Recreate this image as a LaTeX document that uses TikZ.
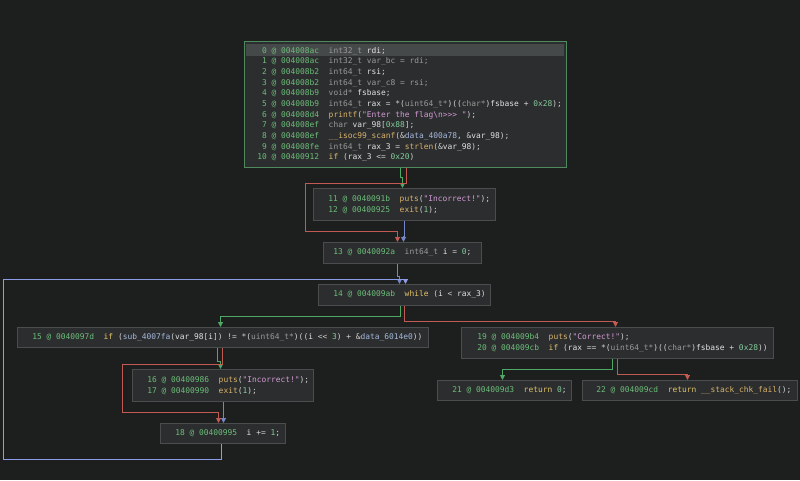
\documentclass[tikz,border=0pt]{standalone}
\usepackage{fontspec}
\setmonofont{DejaVu Sans Mono}
\usetikzlibrary{arrows.meta}
\definecolor{bg}{HTML}{1D1E1E}
\definecolor{boxfill}{HTML}{2B2D2E}
\definecolor{boxline}{HTML}{4A4D4E}
\definecolor{entryline}{HTML}{4F8A5E}
\definecolor{hlrow}{HTML}{46494A}
\definecolor{caddr}{HTML}{6DBE7A}
\definecolor{ctype}{HTML}{9A9A9A}
\definecolor{cvar}{HTML}{E2E2E2}
\definecolor{cfun}{HTML}{D9B36C}
\definecolor{cstr}{HTML}{D49BD6}
\definecolor{ckw}{HTML}{E3C36A}
\definecolor{cnum}{HTML}{84CC9C}
\definecolor{cdat}{HTML}{A5B9DD}
\definecolor{ctext}{HTML}{D0D0D0}
\definecolor{egreen}{HTML}{4FA865}
\definecolor{ered}{HTML}{C05A52}
\definecolor{eblue}{HTML}{7585C8}
\definecolor{eloop}{HTML}{8C9CE6}
\newcommand{\zSetSp}{\spaceskip=\fontcharwd\font`\0\relax\xspaceskip=\spaceskip}
\newcommand{\zLN}[3]{\mbox{\zSetSp\color{caddr}#1\ @\ #2\color{ctext}\ \ #3}}
\newcommand{\zTy}[1]{\textcolor{ctype}{#1}}
\newcommand{\zVa}[1]{\textcolor{cvar}{#1}}
\newcommand{\zFn}[1]{\textcolor{cfun}{#1}}
\newcommand{\zSt}[1]{\textcolor{cstr}{#1}}
\newcommand{\zKw}[1]{\textcolor{ckw}{#1}}
\newcommand{\zNu}[1]{\textcolor{cnum}{#1}}
\newcommand{\zDa}[1]{\textcolor{cdat}{#1}}
\begin{document}
\begin{tikzpicture}[x=1pt,y=-1pt,
  blk/.style={draw=boxline, fill=boxfill, line width=0.8pt, anchor=north west,
    inner ysep=0pt, align=left, text=ctext,
    font=\ttfamily\fontsize{7.9}{10.65}\selectfont},
  edge/.style={line width=1pt, -{Triangle[width=5pt,length=5pt]}}]
\fill[bg] (0,0) rectangle (800,480);
\useasboundingbox (0,0) rectangle (800,480);

\node[blk, draw=entryline, minimum width=322pt, minimum height=126pt, inner xsep=13pt, text width=296pt,
  path picture={\fill[hlrow] ([xshift=2pt,yshift=-3pt]path picture bounding box.north west) rectangle ([xshift=-2pt,yshift=-14.5pt]path picture bounding box.north east);}]
  (b0) at (244,41) {%
\zLN{\ 0}{004008ac}{\zTy{int32\_t} \zVa{rdi};}\\
\zLN{\ 1}{004008ac}{\zTy{int32\_t var\_bc = rdi;}}\\
\zLN{\ 2}{004008b2}{\zTy{int64\_t} \zVa{rsi};}\\
\zLN{\ 3}{004008b2}{\zTy{int64\_t var\_c8 = rsi;}}\\
\zLN{\ 4}{004008b9}{\zTy{void*} \zVa{fsbase};}\\
\zLN{\ 5}{004008b9}{\zTy{int64\_t} \zVa{rax} = *(\zTy{uint64\_t*})((\zTy{char*})\zVa{fsbase} + \zNu{0x28});}\\
\zLN{\ 6}{004008d4}{\zFn{printf}(\zSt{"Enter the flag\textbackslash n>>> "});}\\
\zLN{\ 7}{004008ef}{\zTy{char} \zVa{var\_98}[\zNu{0x88}];}\\
\zLN{\ 8}{004008ef}{\zFn{\_\_isoc99\_scanf}(\&\zDa{data\_400a78}, \&\zVa{var\_98});}\\
\zLN{\ 9}{004008fe}{\zTy{int64\_t} \zVa{rax\_3} = \zFn{strlen}(\&\zVa{var\_98});}\\
\zLN{10}{00400912}{\zKw{if} (\zVa{rax\_3} <= \zNu{0x20})}};

\node[blk, minimum width=182pt, minimum height=32pt, inner xsep=15pt, text width=152pt] (b1) at (313,188) {%
\zLN{11}{0040091b}{\zFn{puts}(\zSt{"Incorrect!"});}\\
\zLN{12}{00400925}{\zFn{exit}(\zNu{1});}};

\node[blk, minimum width=158pt, minimum height=21pt, inner xsep=10pt, text width=138pt] (b13) at (323,242) {%
\zLN{13}{0040092a}{\zTy{int64\_t} \zVa{i} = \zNu{0};}};

\node[blk, minimum width=172pt, minimum height=21pt, inner xsep=15pt, text width=142pt] (b14) at (318,284) {%
\zLN{14}{004009ab}{\zKw{while} (\zVa{i} < \zVa{rax\_3})}};

\node[blk, minimum width=411pt, minimum height=20pt, inner xsep=15pt, text width=381pt] (b15) at (17,327) {%
\zLN{15}{0040097d}{\zKw{if} (\zDa{sub\_4007fa}(\zVa{var\_98}[\zVa{i}]) != *(\zTy{uint64\_t*})((\zVa{i} << \zNu{3}) + \&\zDa{data\_6014e0}))}};

\node[blk, minimum width=312pt, minimum height=31pt, inner xsep=16pt, text width=280pt] (b19) at (461,327) {%
\zLN{19}{004009b4}{\zFn{puts}(\zSt{"Correct!"});}\\
\zLN{20}{004009cb}{\zKw{if} (\zVa{rax} == *(\zTy{uint64\_t*})((\zTy{char*})\zVa{fsbase} + \zNu{0x28}))}};

\node[blk, minimum width=134pt, minimum height=20pt, inner xsep=15pt, text width=104pt] (b21) at (437,380) {%
\zLN{21}{004009d3}{\zKw{return} \zNu{0};}};

\node[blk, minimum width=215pt, minimum height=20pt, inner xsep=14pt, text width=187pt] (b22) at (582,380) {%
\zLN{22}{004009cd}{\zKw{return} \zFn{\_\_stack\_chk\_fail}();}};

\node[blk, minimum width=181pt, minimum height=32pt, inner xsep=15pt, text width=151pt] (b16) at (132,369) {%
\zLN{16}{00400986}{\zFn{puts}(\zSt{"Incorrect!"});}\\
\zLN{17}{00400990}{\zFn{exit}(\zNu{1});}};

\node[blk, minimum width=125pt, minimum height=20pt, inner xsep=15pt, text width=95pt] (b18) at (160,423) {%
\zLN{18}{00400995}{\zVa{i} += \zNu{1};}};

% edges (shifted half a unit so that 1pt lines sit on whole pixels)
\begin{scope}[shift={(0.5,0.5)}]
\draw[edge, egreen] (400,0 |- b0.south) -- (400,177) -- (402,177) -- (402,0 |- b1.north);
\draw[edge, ered] (406,0 |- b0.south) |- (305,183) |- (397,231) -- (397,0 |- b13.north);
\draw[edge, eblue] (404,0 |- b1.south) -- (404,236) -- (403,236) -- (403,0 |- b13.north);
\draw[edge, eblue] (397,0 |- b13.south) -- (397,276) -- (399,276) -- (399,0 |- b14.north);
\draw[edge, eloop] (221,0 |- b18.south) |- (3,459) |- (405,279) -- (405,0 |- b14.north);
\draw[edge, egreen] (400,0 |- b14.south) |- (220,316) -- (220,0 |- b15.north);
\draw[edge, ered] (404,0 |- b14.south) |- (615,321) -- (615,0 |- b19.north);
\draw[edge, egreen] (217,0 |- b15.south) -- (217,361) -- (220,361) -- (220,0 |- b16.north);
\draw[edge, ered] (222,0 |- b15.south) |- (122,364) |- (218,412) -- (218,0 |- b18.north);
\draw[edge, eblue] (223,0 |- b16.south) -- (223,0 |- b18.north);
\draw[edge, egreen] (612,0 |- b19.south) |- (502,369) -- (502,0 |- b21.north);
\draw[edge, ered] (617,0 |- b19.south) |- (687,374) -- (687,0 |- b22.north);
\end{scope}
\end{tikzpicture}
\end{document}
